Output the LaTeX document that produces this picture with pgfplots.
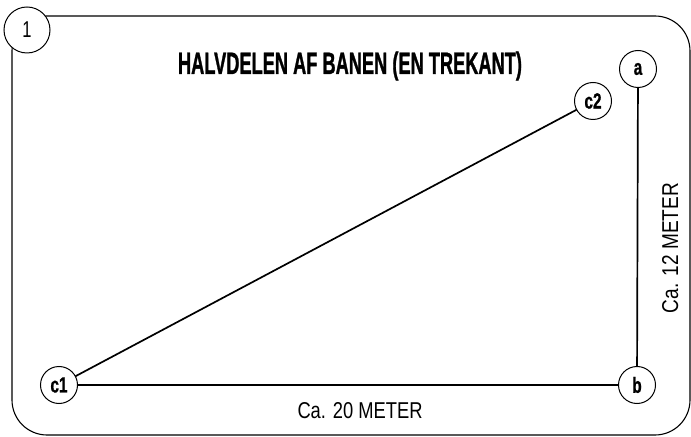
\documentclass[border=0pt]{standalone}
\usepackage{fontspec}
\setmainfont{Liberation Sans}
\newfontfamily\heavyf{Liberation Sans Bold}[FakeBold=1.5]
\newfontfamily\condb{Liberation Sans Bold}[FakeStretch=0.7, FakeBold=0.8]
\newfontfamily\condr{Liberation Sans}[FakeStretch=0.72]
\usepackage{graphicx}
\usepackage{pgfplots}
\pgfplotsset{compat=1.18}
\usepackage{pgfplotstable}
\pgfplotstableread{
x y label
59 385 c1
637 385 b
638 69 a
593 101 c2
}\pts
\pgfplotstableread{
x y label
27 30 1
}\numpt
\begin{document}
\begin{tikzpicture}
\begin{axis}[
  x=1bp, y=1bp, scale only axis,
  xmin=0, xmax=691, ymin=0, ymax=437,
  y dir=reverse,
  hide axis, clip=false,
]
\path (axis cs:0,0) rectangle (axis cs:691,437);
% frame
\draw[black, line width=1.1bp, rounded corners=35bp] (axis cs:12,16) rectangle (axis cs:690,435);
% sides of the triangle
\addplot[black, line width=1.7bp] coordinates {(59,385) (637,385)};
\addplot[black, line width=1.7bp] coordinates {(638,69) (637,385)};
\addplot[black, line width=1.7bp] coordinates {(59,385) (593,101)};
% corner circles
\addplot[only marks, mark=*, mark size=18.5bp,
  mark options={fill=white, draw=black, line width=1bp},
  nodes near coords, point meta=explicit symbolic,
  every node near coord/.append style={anchor=center, font=\condb\fontsize{22}{22}\selectfont, inner sep=0pt, text=black}]
  table[x=x, y=y, meta=label] {\pts};
\addplot[only marks, mark=*, mark size=23bp,
  mark options={fill=white, draw=black, line width=1bp},
  nodes near coords, point meta=explicit symbolic,
  every node near coord/.append style={anchor=center, font=\condr\fontsize{23}{23}\selectfont, inner sep=0pt, text=black}]
  table[x=x, y=y, meta=label] {\numpt};
% texts
\node[anchor=base, inner sep=0pt] at (axis cs:350,74)
  {\resizebox{344bp}{\height}{\heavyf\fontsize{31}{31}\selectfont HALVDELEN AF BANEN (EN TREKANT)}};
\node[anchor=base, inner sep=0pt] at (axis cs:360,418)
  {\resizebox{125bp}{\height}{\fontsize{23}{23}\selectfont Ca. 20 METER}};
\node[anchor=base, inner sep=0pt, rotate=90] at (axis cs:678,248)
  {\resizebox{130bp}{\height}{\fontsize{23}{23}\selectfont Ca. 12 METER}};
\end{axis}
\end{tikzpicture}
\end{document}
